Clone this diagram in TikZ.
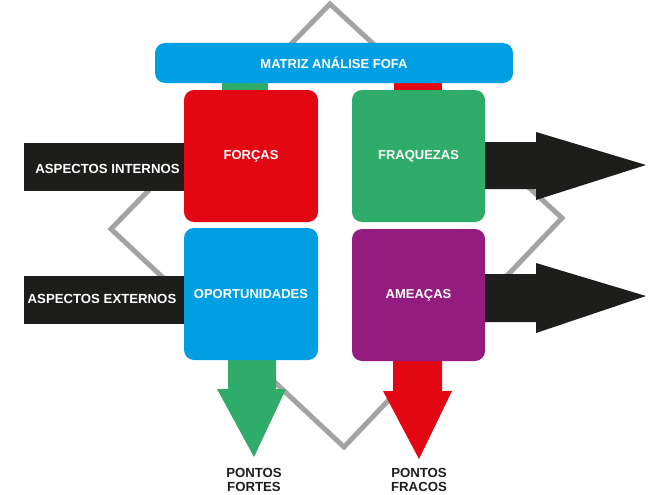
\documentclass[tikz,border=0pt]{standalone}
\usepackage{fontspec}
\setmainfont{Liberation Sans}
\definecolor{cred}{HTML}{E30613}
\definecolor{cgreen}{HTML}{2FAC69}
\definecolor{cblue}{HTML}{009FE3}
\definecolor{cpurple}{HTML}{941B80}
\definecolor{cblack}{HTML}{1D1D1B}
\definecolor{cgray}{HTML}{A3A3A3}
\tikzset{
  quad/.style={rounded corners=10pt, inner sep=0pt, text=white, font=\bfseries\fontsize{13}{14}\selectfont},
  side/.style={fill=cblack, inner sep=0pt},
  sidelab/.style={inner sep=0pt, text=white, font=\bfseries\fontsize{13.2}{15}\selectfont},
  bottomlab/.style={text=cblack, align=center, font=\bfseries\fontsize{13.2}{14.5}\selectfont},
}
\begin{document}
\begin{tikzpicture}[x=1pt,y=-1pt]
\useasboundingbox (0,0) rectangle (661,495);
% diamond
\draw[cgray, line width=5pt, miter limit=10] (330,4) -- (562,218) -- (344,447) -- (111,229) -- cycle;
% right arrows
\fill[cblack] (480,142) -- (536,142) -- (536,132) -- (646,165) -- (536,200) -- (536,189) -- (480,189) -- cycle;
\fill[cblack] (480,274) -- (536,274) -- (536,263) -- (646,296) -- (536,333) -- (536,322) -- (480,322) -- cycle;
% down arrows
\fill[cgreen] (228,355) -- (276,355) -- (276,389) -- (286,389) -- (254,457) -- (217,389) -- (228,389) -- cycle;
\fill[cred] (393,355) -- (442,355) -- (442,391) -- (452,391) -- (419,459) -- (383,391) -- (393,391) -- cycle;
% stubs
\fill[cgreen] (222,78) rectangle (268,95);
\fill[cred] (394,78) rectangle (442,95);
% title bar
\node[fill=cblue, rounded corners=10pt, minimum width=358pt, minimum height=40pt, inner sep=0pt, text=white, font=\bfseries\fontsize{13}{14}\selectfont] (title) at (334,63) {MATRIZ ANÁLISE FOFA};
% side labels
\node[side, minimum width=161pt, minimum height=48pt] (int) at (104,167) {};
\node[sidelab] (intlab) at (107.5,168.5) {ASPECTOS INTERNOS};
\node[side, minimum width=161pt, minimum height=48pt] (ext) at (104.5,300) {};
\node[sidelab] (extlab) at (102,298.5) {ASPECTOS EXTERNOS};
% quadrants
\node[quad, fill=cred, minimum width=134pt, minimum height=132pt] (forcas) at (251,156) {FORÇAS};
\node[quad, fill=cgreen, minimum width=133pt, minimum height=132pt] (fraq) at (418.5,156) {FRAQUEZAS};
\node[quad, fill=cblue, minimum width=134pt, minimum height=132pt] (oport) at (251,294) {OPORTUNIDADES};
\node[quad, fill=cpurple, minimum width=133pt, minimum height=132pt] (ameacas) at (418.5,295) {AMEAÇAS};
% bottom labels
\node[bottomlab] (fortes) at (254,480) {PONTOS\\FORTES};
\node[bottomlab] (fracos) at (419,480) {PONTOS\\FRACOS};
\end{tikzpicture}
\end{document}
